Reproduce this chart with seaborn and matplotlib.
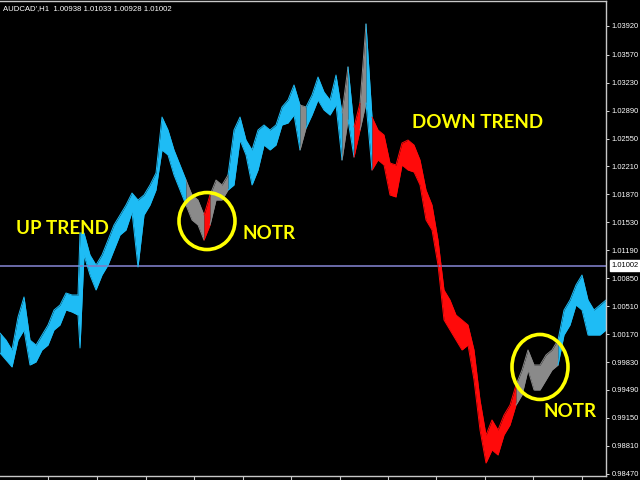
import matplotlib
matplotlib.use('Agg')
import matplotlib.pyplot as plt
from matplotlib.patches import Ellipse
import pandas as pd
import seaborn as sns

# price path (bar position, high, low)
bar_x = [0, 6, 12, 18, 24, 30, 36, 42, 48, 54, 60, 66, 72, 78, 80,
         84, 90, 96, 102, 108, 114, 120, 126, 132, 138, 144, 150, 156, 162, 168, 174, 180,
         186, 192, 198, 204, 210, 216, 222, 228, 234, 240, 246, 252, 258, 264, 270, 276,
         282, 288, 294, 300, 306, 312, 318, 324, 330, 336, 342, 348, 354, 360, 366, 372,
         378, 384, 390, 396, 402, 408, 414, 420, 426, 432, 438, 444, 450, 456, 462, 468,
         474, 480, 486, 492, 498, 504, 510, 516, 522, 528, 534, 540, 546, 552, 558, 564,
         570, 576, 582, 588, 594, 600, 606]
high = [1.00183, 1.00098, 0.99977, 1.00378, 1.00622, 1.00098, 1.00037, 1.00159, 1.00281,
        1.00463, 1.00524, 1.00670, 1.00646, 1.00646, 1.01400,
        1.01400, 1.01133, 1.01011, 1.01133, 1.01315, 1.01498, 1.01619, 1.01741, 1.01887,
        1.01802, 1.01863, 1.01985, 1.02131, 1.02812, 1.02654, 1.02411, 1.02228,
        1.02045, 1.01863, 1.01802, 1.01619, 1.01863, 1.02045, 1.01985, 1.02106, 1.02654,
        1.02812, 1.02532, 1.02411, 1.02654, 1.02715, 1.02654, 1.02715,
        1.02934, 1.03019, 1.03202, 1.02958, 1.02934, 1.03080, 1.03299, 1.03116, 1.03019,
        1.03323, 1.02861, 1.03421, 1.02690, 1.02983, 1.03944, 1.02812,
        1.02654, 1.02593, 1.02252, 1.02228, 1.02496, 1.02532, 1.02471, 1.02289, 1.01924,
        1.01741, 1.01315, 1.00707, 1.00585, 1.00402, 1.00342, 1.00281,
        0.99977, 0.99368, 0.98942, 0.99125, 0.99003, 0.99185, 0.99307, 0.99551, 0.99733,
        0.99977, 0.99794, 0.99794, 0.99916, 0.99977, 1.00098, 1.00463,
        1.00585, 1.00768, 1.00889, 1.00585, 1.00463, 1.00524, 1.00585]
low = [0.99940, 0.99855, 0.99770, 1.00098, 1.00220, 0.99794, 0.99831, 0.99977, 1.00037,
       1.00220, 1.00281, 1.00463, 1.00439, 1.00402, 1.00001,
       1.01133, 1.00889, 1.00707, 1.00889, 1.01011, 1.01194, 1.01376, 1.01437, 1.01656,
       1.00987, 1.01619, 1.01741, 1.01924, 1.02411, 1.02350, 1.02106, 1.01924,
       1.01741, 1.01559, 1.01498, 1.01315, 1.01498, 1.01802, 1.01802, 1.01924, 1.01985,
       1.02532, 1.02350, 1.01985, 1.02167, 1.02471, 1.02411, 1.02471,
       1.02715, 1.02739, 1.02836, 1.02411, 1.02678, 1.02836, 1.03019, 1.02897, 1.02836,
       1.02958, 1.02289, 1.02776, 1.02325, 1.02654, 1.02983, 1.02167,
       1.02289, 1.02228, 1.01863, 1.01839, 1.02228, 1.02167, 1.02143, 1.01985, 1.01559,
       1.01437, 1.01011, 1.00342, 1.00220, 1.00098, 0.99977, 1.00037,
       0.99611, 0.99003, 0.98601, 0.98760, 0.98699, 0.98942, 0.99064, 0.99307, 0.99429,
       0.99733, 0.99490, 0.99490, 0.99611, 0.99733, 0.99794, 1.00159,
       1.00281, 1.00524, 1.00463, 1.00159, 1.00159, 1.00159, 1.00220]
trend = (['up'] * 32 + ['flat'] * 3 + ['down'] + ['flat'] * 3 + ['up'] * 12 + ['flat']
         + ['up'] * 6 + ['flat'] + ['up'] + ['down'] + ['flat'] + ['up'] + ['down'] * 24
         + ['flat'] * 7 + ['up'] * 9)

price_ticks = [1.03920, 1.03570, 1.03230, 1.02890, 1.02550, 1.02210, 1.01870, 1.01530,
               1.01190, 1.00850, 1.00510, 1.00170, 0.99830, 0.99490, 0.99150, 0.98810, 0.98470]
time_ticks = [48, 97, 146, 194, 243, 291, 340, 388, 436, 485, 533, 582]
last_price = 1.01002
header = "AUDCAD',H1  1.00938 1.01033 1.00928 1.01002"

trend_colors = {'up': '#1ebcf5', 'flat': '#8a8a8a', 'down': '#ff0a0a'}

df = pd.DataFrame({'x': bar_x, 'high': high, 'low': low, 'trend': trend})
df['run'] = (df['trend'] != df['trend'].shift()).cumsum()

sns.set_theme(style='dark', rc={'axes.facecolor': 'black', 'figure.facecolor': 'black',
                                'axes.edgecolor': '#c8c8c8', 'axes.grid': False})

fig = plt.figure(figsize=(6.4, 4.8), dpi=100)
ax = fig.add_axes([0, 4 / 480, 606 / 640, 475 / 480])

n = len(df)
for run_id, grp in df.groupby('run'):
    i0, i1 = grp.index[0], min(grp.index[-1] + 1, n - 1)
    seg = df.loc[i0:i1]
    c = trend_colors[grp['trend'].iloc[0]]
    ax.fill_between(seg['x'], seg['low'], seg['high'], color=c, lw=0)
    sns.lineplot(data=seg, x='x', y='high', color=c, lw=0.7, ax=ax, legend=False)
    sns.lineplot(data=seg, x='x', y='low', color=c, lw=0.7, ax=ax, legend=False)

ax.axhline(last_price, color='#7c7cc4', lw=1.2, zorder=1)

ax.set_xlim(0, 606)
ax.set_ylim(0.98443, 1.04224)
ax.set_xlabel('')
ax.set_ylabel('')

ax.yaxis.tick_right()
ax.set_yticks(price_ticks)
ax.set_yticklabels([f'{p:.5f}' for p in price_ticks], family='Liberation Sans')
ax.set_xticks(time_ticks)
ax.set_xticklabels([])
ax.tick_params(axis='y', colors='white', length=2.5, width=0.6, labelsize=5.4, pad=1.5,
               right=True, left=False)
ax.tick_params(axis='x', colors='#c8c8c8', length=4, width=0.8, bottom=True)
for s in ax.spines.values():
    s.set_linewidth(1.0)
ax.spines['left'].set_visible(False)

ax.annotate(f'{last_price:.5f}', xy=(1.0, last_price), xycoords=('axes fraction', 'data'),
            xytext=(4, 0), textcoords='offset points', ha='left', va='center',
            fontsize=5.4, family='Liberation Sans', color='black', annotation_clip=False,
            bbox=dict(boxstyle='square,pad=0.25', fc='white', ec='white'))

fig.text(3 / 640, 1 - 9 / 480, header, color='white', fontsize=5.6,
         family='Liberation Sans', ha='left', va='center')

label_kw = dict(color='#ffff00', fontsize=13.5, fontweight='bold', family='Lato',
                ha='center', va='center')
ax.text(62, 1.01461, 'UP TREND', **label_kw)
ax.text(269, 1.01400, 'NOTR', **label_kw)
ax.text(478, 1.02751, 'DOWN TREND', **label_kw)
ax.text(570, 0.99234, 'NOTR', **label_kw)

ax.add_patch(Ellipse((207, 1.01546), 56, 0.00694, fill=False, ec='#ffff00', lw=2.6, zorder=5))
ax.add_patch(Ellipse((540, 0.99770), 56, 0.00791, fill=False, ec='#ffff00', lw=2.6, zorder=5))

fig.savefig('out.png', dpi=100, facecolor='black')
